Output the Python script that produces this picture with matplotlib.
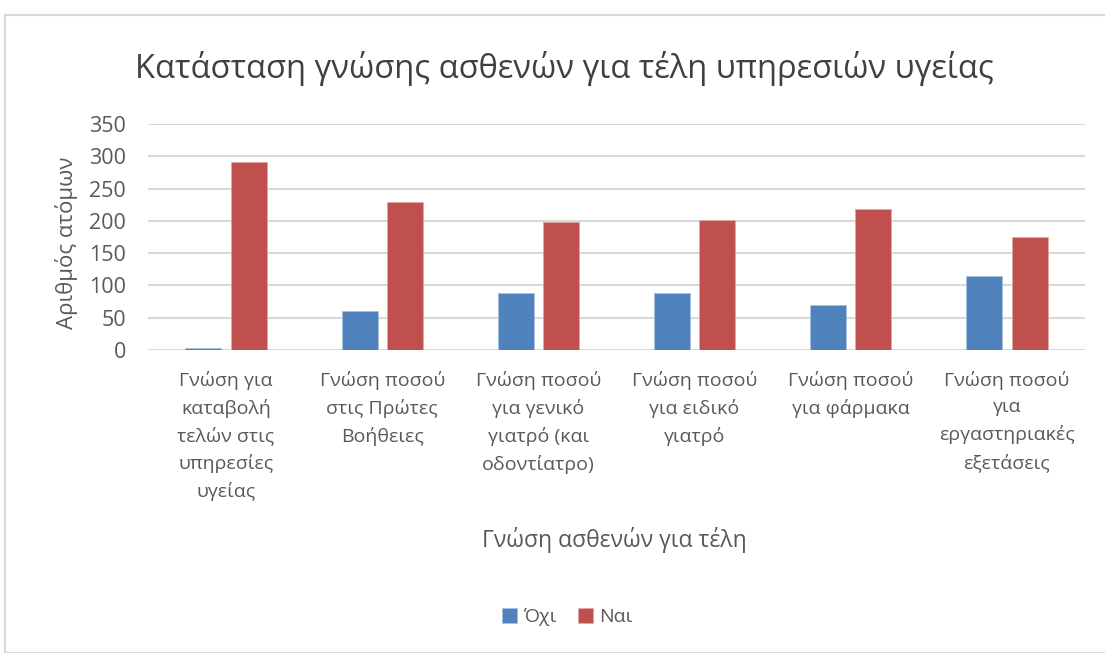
import matplotlib
matplotlib.use("Agg")
import matplotlib.pyplot as plt
import numpy as np
from matplotlib.patches import Rectangle

categories = [
    "Γνώση για\nκαταβολή\nτελών στις\nυπηρεσίες\nυγείας",
    "Γνώση ποσού\nστις Πρώτες\nΒοήθειες",
    "Γνώση ποσού\nγια γενικό\nγιατρό (και\nοδοντίατρο)",
    "Γνώση ποσού\nγια ειδικό\nγιατρό",
    "Γνώση ποσού\nγια φάρμακα",
    "Γνώση ποσού\nγια\nεργαστηριακές\nεξετάσεις",
]
ochi = [3, 60, 89, 89, 70, 114]
nai = [291, 229, 199, 201, 219, 175]
series_names = ["Όχι", "Ναι"]
yticks = [0, 50, 100, 150, 200, 250, 300, 350]

plt.rcParams['font.family'] = ['Open Sans', 'DejaVu Sans']
txt = '#595959'

fig = plt.figure(figsize=(11.05, 6.53), dpi=100)
fig.patches.append(Rectangle((5/1105, 0), 1.2, 1 - 15/653, transform=fig.transFigure,
                             fill=False, edgecolor='#D9D9D9', linewidth=1.5))
ax = fig.add_axes([148/1105, 1 - 350/653, (1085 - 148)/1105, (350 - 124)/653])

x = np.arange(len(categories))
w = 0.23
g = 0.03
ax.bar(x - w/2 - g, ochi, w, color='#4F81BD', edgecolor='#A7C0DE', linewidth=0.6, label=series_names[0], zorder=3)
ax.bar(x + w/2 + g, nai, w, color='#C0504D', edgecolor='#E0A9A7', linewidth=0.6, label=series_names[1], zorder=3)

ax.set_xlim(-0.5, len(categories) - 0.5)
ax.set_ylim(0, 350)
ax.set_yticks(yticks)
ax.yaxis.grid(True, color='#D9D9D9', linewidth=1.5, zorder=0)
for s in ax.spines.values():
    s.set_visible(False)
ax.tick_params(axis='x', length=0, labelsize=14, colors=txt, pad=15)
ax.tick_params(axis='y', length=0, labelsize=15.5, colors=txt, pad=16)
ax.set_xticks(x)
ax.set_xticklabels(categories, linespacing=1.6, va='top')

fig.text(564/1105, 1 - 68/653, "Κατάσταση γνώσης ασθενών για τέλη υπηρεσιών υγείας",
         ha='center', va='center', fontsize=23.5, color='#404040')
fig.text(66/1105, 1 - 243/653, "Αριθμός ατόμων", rotation=90, ha='center', va='center',
         fontsize=16, color=txt)
fig.text(614/1105, 1 - 540/653, "Γνώση ασθενών για τέλη", ha='center', va='center',
         fontsize=16.5, color=txt)

leg = fig.legend(loc='center', bbox_to_anchor=(567/1105, 1 - 617/653), ncol=2, frameon=False,
                 fontsize=14, handlelength=0.8, handleheight=0.8, handletextpad=0.3,
                 columnspacing=1.1)
for t in leg.get_texts():
    t.set_color(txt)

fig.savefig("out.png", dpi=100)
